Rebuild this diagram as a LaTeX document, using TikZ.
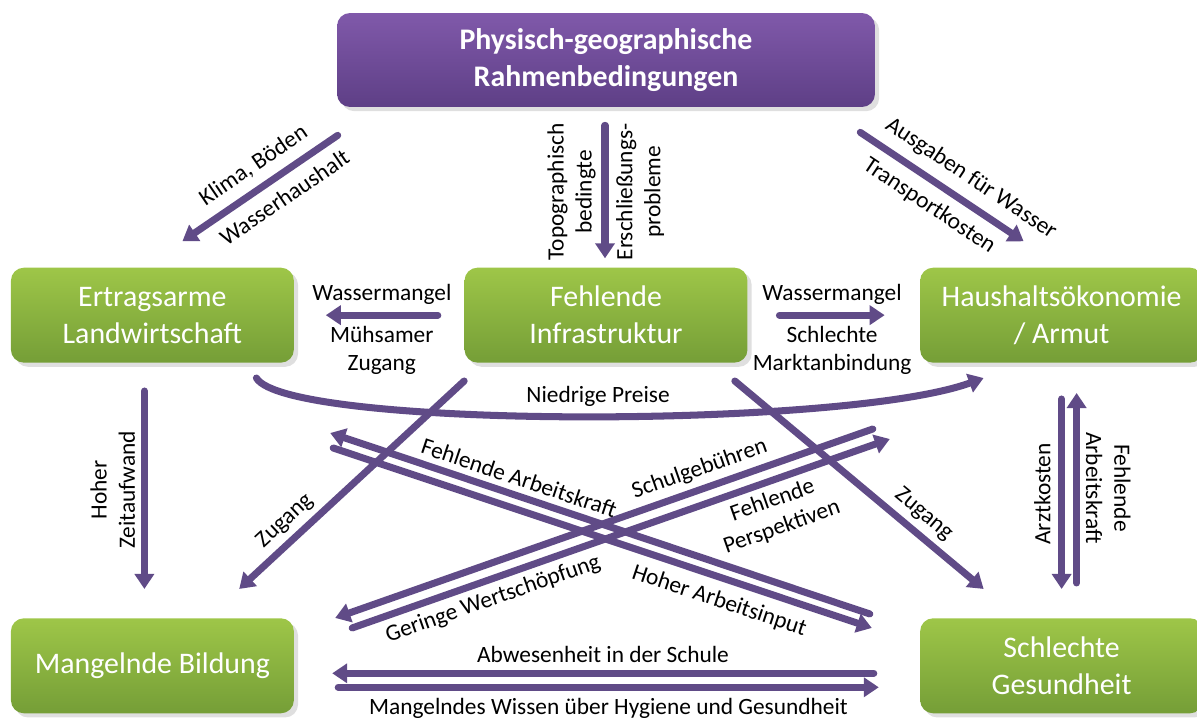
\documentclass[tikz,border=0pt]{standalone}
\usepackage{fontspec}
\setmainfont{Carlito}
\usepackage{xcolor}
\usepackage{tikz}
\usetikzlibrary{arrows.meta, positioning, shadows}
\definecolor{leafgreen}{RGB}{158, 198, 72}
\definecolor{mossgreen}{RGB}{117, 158, 55}
\definecolor{lightplum}{RGB}{128, 89, 170}
\definecolor{deepplum}{RGB}{94, 63, 134}
\definecolor{arrowplum}{RGB}{96, 75, 135}

\begin{document}
\begin{tikzpicture}[
    x=0.02cm, y=-0.02cm,
    block/.style={rectangle, top color=leafgreen, bottom color=mossgreen, rounded corners=0.26cm, align=center, text=white, minimum width=5.66cm, minimum height=1.9cm, font=\fontsize{17}{21}\selectfont, drop shadow={opacity=0.25}},
    topblock/.style={block, top color=lightplum, bottom color=deepplum, minimum width=10.76cm, minimum height=1.88cm, font=\fontsize{17}{21}\selectfont\bfseries},
    line/.style={draw=arrowplum, line width=4pt, line cap=round, -{Triangle[width=0.38cm,length=0.3cm]}},
    lbl/.style={font=\fontsize{13.3}{16}\selectfont, align=center}
]
\useasboundingbox (0,0) rectangle (1197,718);

% Nodes
\node [topblock] (phys) at (606,60) {Physisch-geographische\\Rahmenbedingungen};
\node [block, below=3.2cm of phys] (infra) {Fehlende\\Infrastruktur};
\node [block, left=3.4cm of infra] (ertr) {Ertragsarme\\Landwirtschaft};
\node [block, right=3.44cm of infra] (haus) {Haushaltsökonomie\\/ Armut};
\node [block, below=5.1cm of ertr] (bild) {Mangelnde Bildung};
\node [block, below=5.1cm of haus] (gesu) {Schlechte\\Gesundheit};

% Connectors from the top
\path [line] ([shift={(1,28)}]phys.south west) -- node[lbl, pos=.46, sloped, above=2pt]{Klima, Böden} node[lbl, pos=.42, sloped, below=2pt]{Wasserhaushalt} ([shift={(30,-26)}]ertr.north);
\path [line] ([shift={(-1,18)}]phys.south) -- node[lbl, midway, rotate=90, anchor=south]{Topographisch\\bedingte} node[lbl, midway, rotate=90, anchor=north, outer sep=3pt]{Erschließungs-\\probleme} ([shift={(-1,-9)}]infra.north);
\path [line] ([shift={(-15,25)}]phys.south east) -- node[lbl, pos=.6, sloped, above=2pt]{Ausgaben für Wasser} node[lbl, pos=.5, sloped, below=2pt]{Transportkosten} ([shift={(-38,-26)}]haus.north);

% Connectors from the infrastructure
\path [line] ([xshift=-15]infra.west) -- node[lbl, above=1pt]{Wassermangel} node[lbl, below=1pt]{Mühsamer\\Zugang} ([xshift=18]ertr.east);
\path [line] ([xshift=18]infra.east) -- node[lbl, above=1pt]{Wassermangel} node[lbl, below=1pt]{Schlechte\\Marktanbindung} ([xshift=-20]haus.west);
\path [line] ([shift={(0,18)}]infra.south west) -- node[lbl, pos=.74, sloped, above]{Zugang} ([shift={(-55,-29)}]bild.north east);
\path [line] ([shift={(-13,18)}]infra.south east) -- node[lbl, pos=.71, sloped, above]{Zugang} ([shift={(-78,-29)}]gesu.north);

% Curve and verticals
\path [line] ([shift={(104,15)}]ertr.south) .. controls ([shift={(134,66)}]ertr.south) and ([shift={(-218,66)}]haus.south) .. node[lbl, pos=.52, above]{Niedrige Preise} ([shift={(-78,15)}]haus.south);
\path [line] ([shift={(-8,28)}]ertr.south) -- node[lbl, midway, rotate=90, anchor=south]{Hoher\\Zeitaufwand} ([shift={(-8,-29)}]bild.north);
\path [line] ([shift={(0,36)}]haus.south) -- node[lbl, midway, rotate=90, anchor=south, outer sep=3pt]{Arztkosten} ([shift={(0,-29)}]gesu.north);
\path [line] ([shift={(15,-35)}]gesu.north) -- node[lbl, midway, rotate=-90, anchor=south, outer sep=2pt]{Fehlende\\Arbeitskraft} ([shift={(15,30)}]haus.south);

% Crossing pairs
\path [line] ([shift={(-50,-4)}]gesu.north west) -- node[lbl, pos=.66, sloped, above]{Fehlende Arbeitskraft} ([shift={(36,70)}]ertr.south east);
\path [line] ([shift={(39,85)}]ertr.south east) -- node[lbl, pos=.73, sloped, below=2pt]{Hoher Arbeitsinput} ([shift={(-48,10)}]gesu.north west);
\path [line] ([shift={(-47,66)}]haus.south west) -- node[lbl, pos=.31, sloped, above]{Schulgebühren} ([shift={(41,0)}]bild.north east);
\path [line] ([shift={(58,10)}]bild.north east) -- node[lbl, pos=.25, sloped, below]{Geringe Wertschöpfung} node[lbl, pos=.77, sloped, below]{Fehlende\\Perspektiven} ([shift={(-30,76)}]haus.south west);

% Bottom pair
\path [line] ([shift={(-46,7.5)}]gesu.west) -- node[lbl, above=1pt]{Abwesenheit in der Schule} ([shift={(38,7.5)}]bild.east);
\path [line] ([shift={(44,21.5)}]bild.east) -- node[lbl, below=1pt]{Mangelndes Wissen über Hygiene und Gesundheit} ([shift={(-41,21.5)}]gesu.west);

\end{tikzpicture}
\end{document}
